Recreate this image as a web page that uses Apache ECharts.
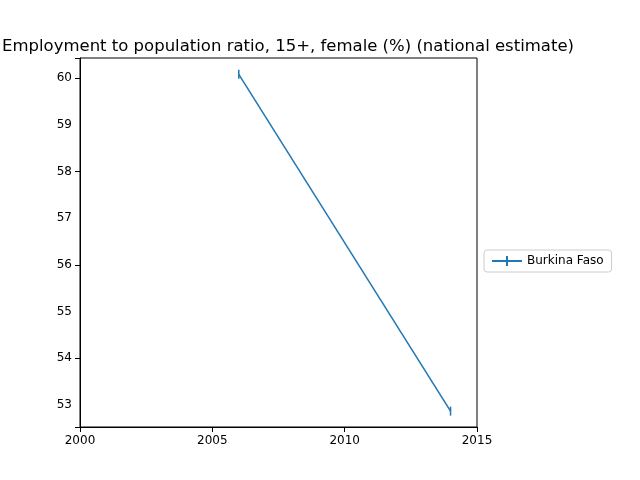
<!DOCTYPE html>
<html>
<head>
<meta charset="utf-8">
<script src="https://cdn.jsdelivr.net/npm/echarts@6/dist/echarts.min.js"></script>
<style>html,body{margin:0;padding:0;}#main{width:640px;height:480px;}</style>
</head>
<body>
<div id="main"></div>
<script>
var years = [2006, 2014];
var values = [60.08, 52.87];
var seriesName = 'Burkina Faso';
var titleText = 'Employment to population ratio, 15+, female (%) (national estimate)';

var myChart = echarts.init(document.getElementById('main'));

var option = {
    animation: false,
    title: {
        text: titleText,
        left: 283,
        top: 33,
        textAlign: 'center',
        textStyle: { fontFamily: 'DejaVu Sans', fontSize: 16.5, fontWeight: 'normal', color: '#000' }
    },
    legend: {
        data: [{ name: seriesName, icon: 'path://M0,4L30,4L30,6L0,6Z M14,0L16,0L16,10L14,10Z' }],
        left: 484,
        top: 250,
        orient: 'vertical',
        itemWidth: 30,
        itemHeight: 10,
        itemStyle: { borderWidth: 0 },
        padding: [5, 8],
        borderColor: '#ccc',
        borderWidth: 1,
        borderRadius: 3,
        textStyle: { fontFamily: 'DejaVu Sans', fontSize: 12, color: '#000' }
    },
    grid: { left: 80, top: 58, width: 397, height: 369, show: true, borderColor: '#000', borderWidth: 1 },
    xAxis: {
        type: 'value',
        min: 2000, max: 2015, interval: 5,
        axisLine: { onZero: false, lineStyle: { color: '#000' } },
        axisTick: { lineStyle: { color: '#000' } },
        axisLabel: { color: '#000', fontFamily: 'DejaVu Sans', fontSize: 12, formatter: function (v) { return String(v); } },
        splitLine: { show: false }
    },
    yAxis: {
        type: 'value',
        min: 52.53, max: 60.43,
        axisLine: { show: true, lineStyle: { color: '#000' } },
        axisTick: { show: true, lineStyle: { color: '#000' } },
        axisLabel: {
            color: '#000', fontFamily: 'DejaVu Sans', fontSize: 12,
            customValues: [53, 54, 55, 56, 57, 58, 59, 60]
        },
        splitLine: { show: false }
    },
    series: [{
        name: seriesName,
        type: 'line',
        data: years.map(function (y, i) { return [y, values[i]]; }),
        color: '#1f77b4',
        lineStyle: { width: 1.5 },
        symbol: 'rect',
        symbolSize: [1.5, 9],
        itemStyle: { color: '#1f77b4' }
    }]
};
myChart.setOption(option);
</script>
</body>
</html>
